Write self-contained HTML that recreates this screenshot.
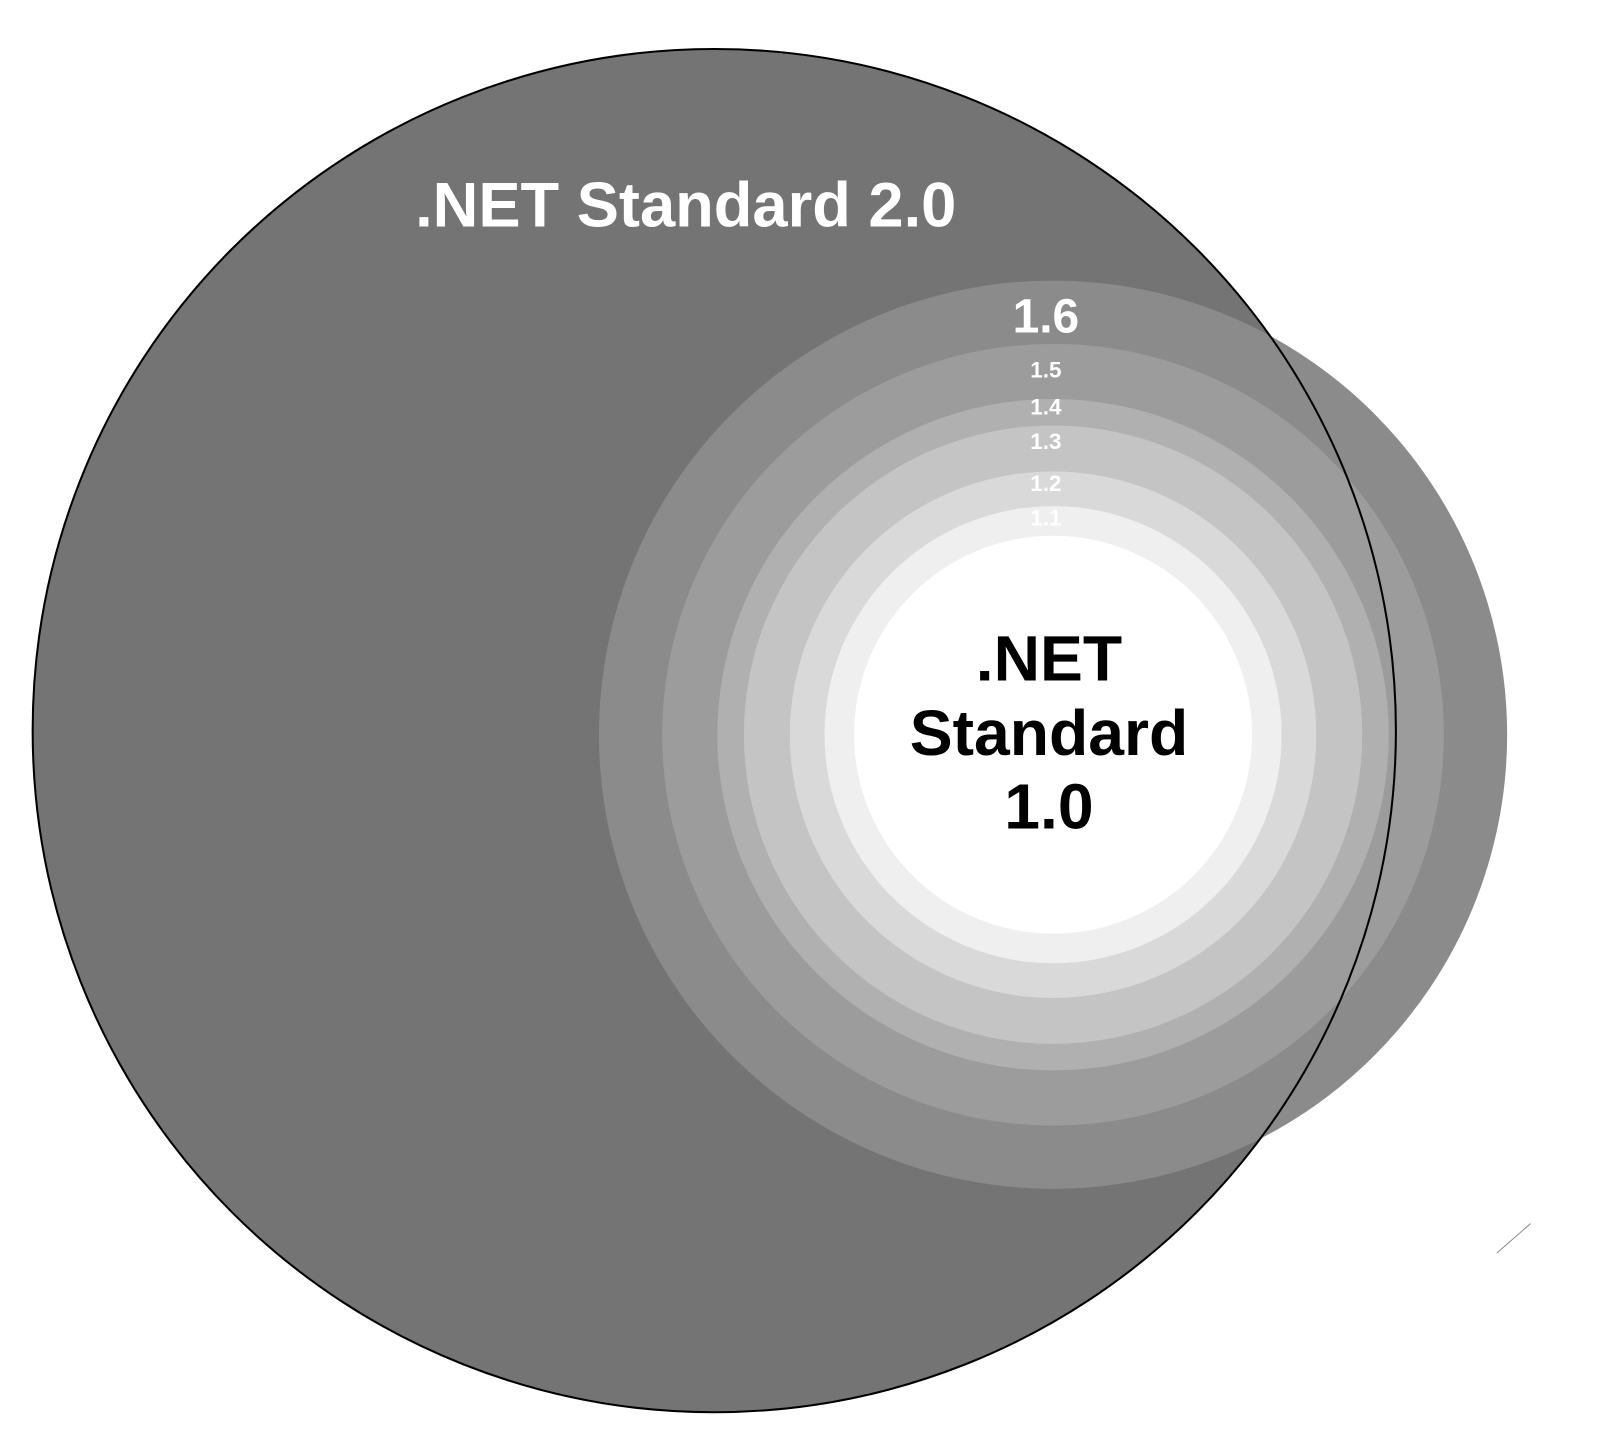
<!DOCTYPE html>
<html><head><meta charset="utf-8"><style>html,body{margin:0;padding:0;background:#fff}svg{display:block}text{font-family:"Liberation Sans",sans-serif;font-weight:bold;text-anchor:middle}</style></head>
<body>
<svg width="1600" height="1440" viewBox="0 0 1600 1440">
<g transform="scale(1.0204)">
<circle cx="700" cy="716" r="668" fill="#747474"/>
<g id="rings"></g>
<circle cx="700" cy="716" r="668" fill="none" stroke="#000" stroke-width="2"/>
<line x1="1467" y1="1228" x2="1500" y2="1199" stroke="#888" stroke-width="1"/>
<text x="672" y="222" font-size="62" fill="#fff">.NET Standard 2.0</text>
<g id="labels"></g>
<text x="1028" y="667" font-size="63" fill="#000">.NET</text>
<text x="1028" y="740" font-size="63" fill="#000">Standard</text>
<text x="1028" y="812" font-size="63" fill="#000">1.0</text>
</g>
</svg>
<script>
const versions = ["1.6","1.5","1.4","1.3","1.2","1.1","1.0"];
const radii = [445,383,329,303,258,224,195];
const shades = ["#8b8b8b","#9c9c9c","#b0b0b0","#c4c4c4","#d9d9d9","#efefef","#ffffff"];
const labelY = [326,370,406,440,481,515];
const labelSize = [47,22,22,22,22,22];
const cx = 1032, cy = 720;
const NS = "http://www.w3.org/2000/svg";
const rings = document.getElementById("rings");
versions.forEach((v,i)=>{
  const c = document.createElementNS(NS,"circle");
  c.setAttribute("cx",cx); c.setAttribute("cy",cy); c.setAttribute("r",radii[i]);
  c.setAttribute("fill",shades[i]);
  
  
  rings.appendChild(c);
});
const labels = document.getElementById("labels");
labelY.forEach((y,i)=>{
  const t = document.createElementNS(NS,"text");
  t.setAttribute("x",1025); t.setAttribute("y",y);
  t.setAttribute("font-size",labelSize[i]); t.setAttribute("fill","#fff");
  t.textContent = versions[i];
  
  
  labels.appendChild(t);
});
</script>
</body></html>
